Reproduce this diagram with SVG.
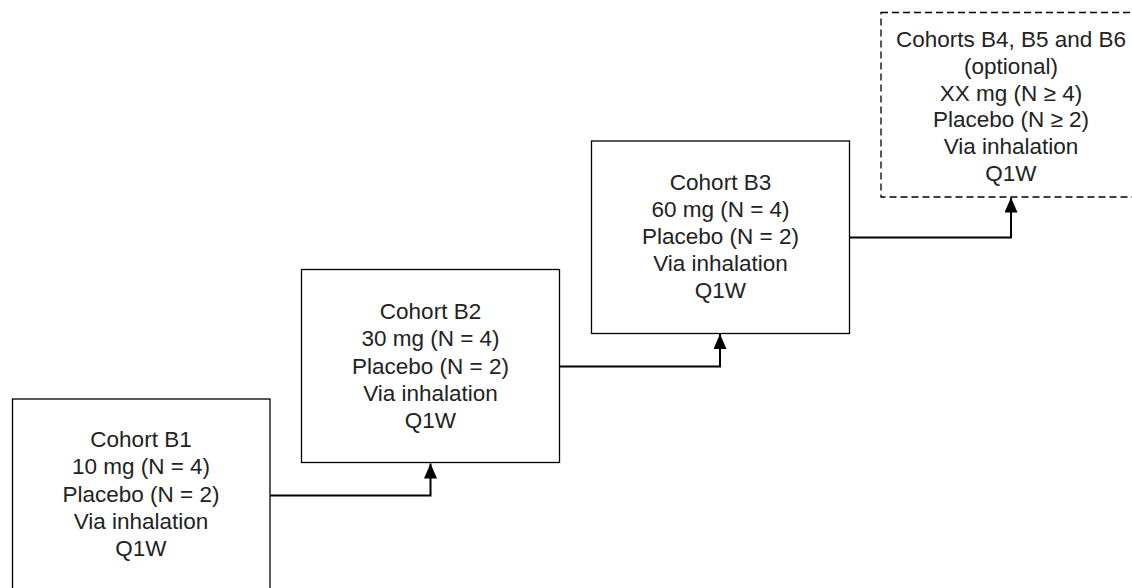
<svg xmlns="http://www.w3.org/2000/svg" width="1132" height="588" viewBox="0 0 1132 588">
<style>
.box{fill:#fff;stroke:#000;stroke-width:1.3}
.dash{stroke-dasharray:7 4}
.t{font-family:"Liberation Sans",Arial,sans-serif;font-size:22.5px;fill:#222;text-anchor:middle}
.c{fill:none;stroke:#000;stroke-width:2}
</style>
<defs>
<marker id="ah" markerUnits="userSpaceOnUse" markerWidth="16" markerHeight="13" refX="15" refY="6.5" orient="auto">
<path d="M0,0 L15,6.5 L0,13 z" fill="#000"/>
</marker>
</defs>
<rect width="1132" height="588" fill="#fff"/>
<g id="connectors">
<path class="c" d="M270 495.5 H430.5 V463.5" marker-end="url(#ah)"/>
<path class="c" d="M560 366.5 H720 V334" marker-end="url(#ah)"/>
<path class="c" d="M849.5 237.5 H1011 V197.5" marker-end="url(#ah)"/>
</g>
<g id="b1">
<rect class="box" x="12.5" y="399" width="257.5" height="195"/>
<text class="t" x="141" y="447.3">Cohort B1</text>
<text class="t" x="141" y="474.4">10 mg (N = 4)</text>
<text class="t" x="141" y="501.5">Placebo (N = 2)</text>
<text class="t" x="141" y="528.6">Via inhalation</text>
<text class="t" x="141" y="555.7">Q1W</text>
</g>
<g id="b2">
<rect class="box" x="301.5" y="269.5" width="258" height="193"/>
<text class="t" x="430.5" y="319.3">Cohort B2</text>
<text class="t" x="430.5" y="346.4">30 mg (N = 4)</text>
<text class="t" x="430.5" y="373.5">Placebo (N = 2)</text>
<text class="t" x="430.5" y="400.6">Via inhalation</text>
<text class="t" x="430.5" y="427.7">Q1W</text>
</g>
<g id="b3">
<rect class="box" x="591.5" y="141" width="258" height="192.5"/>
<text class="t" x="720.5" y="190">Cohort B3</text>
<text class="t" x="720.5" y="217.1">60 mg (N = 4)</text>
<text class="t" x="720.5" y="244.2">Placebo (N = 2)</text>
<text class="t" x="720.5" y="271.3">Via inhalation</text>
<text class="t" x="720.5" y="298.4">Q1W</text>
</g>
<g id="b4">
<rect class="box dash" x="881" y="12.5" width="262" height="184.5"/>
<text class="t" x="1011" y="46.7">Cohorts B4, B5 and B6</text>
<text class="t" x="1011" y="73.6">(optional)</text>
<text class="t" x="1011" y="100.5">XX mg (N ≥ 4)</text>
<text class="t" x="1011" y="127.4">Placebo (N ≥ 2)</text>
<text class="t" x="1011" y="154.3">Via inhalation</text>
<text class="t" x="1011" y="181.2">Q1W</text>
</g>
</svg>
